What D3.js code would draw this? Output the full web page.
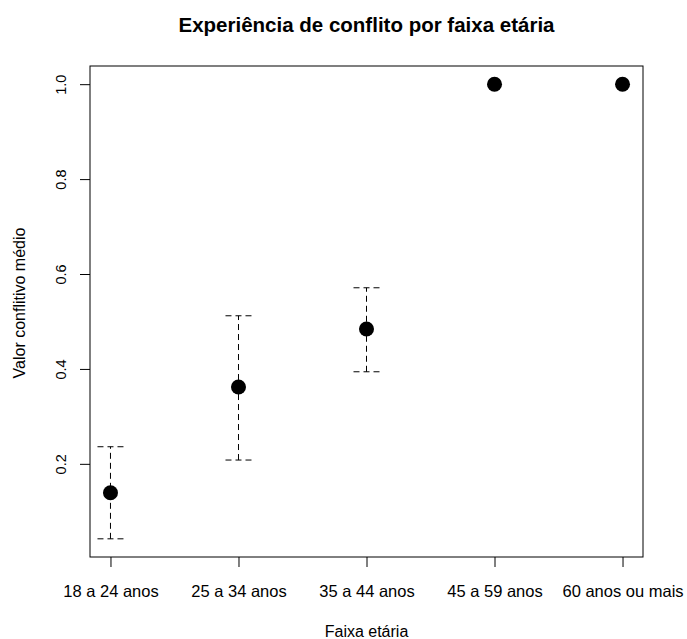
<!DOCTYPE html>
<html>
<head>
<meta charset="utf-8">
<script src="https://cdn.jsdelivr.net/npm/d3@7"></script>
<style>
  body { margin: 0; background: #fff; }
  text { font-family: "Liberation Sans", Arial, sans-serif; fill: #000; }
</style>
</head>
<body>
<svg id="drawing_region"></svg>
<script>
// faixas etarias e valores medios com intervalos
const categories = ["18 a 24 anos", "25 a 34 anos", "35 a 44 anos", "45 a 59 anos", "60 anos ou mais"];
const means = [0.139, 0.362, 0.484, 1.0, 1.0];
const lower = [0.042, 0.208, 0.394, 1.0, 1.0];
const upper = [0.236, 0.512, 0.571, 1.0, 1.0];
const yTicks = [0.2, 0.4, 0.6, 0.8, 1.0];

const config = {
    width: 687,
    height: 639,
    margin: {top: 66, right: 44, bottom: 82, left: 90}
};

const svg = d3.select('#drawing_region')
    .attr('width', config.width)
    .attr('height', config.height);

const inner_width = config.width - config.margin.left - config.margin.right;
const inner_height = config.height - config.margin.top - config.margin.bottom;

const chart = svg.append('g')
    .attr('transform', `translate(${config.margin.left}, ${config.margin.top})`);

// R style 4% extension
const xscale = d3.scaleLinear()
    .domain([0.84, 5.16])
    .range([0, inner_width]);

const ylo = d3.min(lower), yhi = d3.max(upper);
const ypad = (yhi - ylo) * 0.04;
const yscale = d3.scaleLinear()
    .domain([ylo - ypad, yhi + ypad])
    .range([inner_height, 0]);

// box
chart.append('rect')
    .attr('x', 0).attr('y', 0)
    .attr('width', inner_width).attr('height', inner_height)
    .attr('fill', 'none').attr('stroke', '#000').attr('stroke-width', 1);

// x axis
const xaxis = d3.axisBottom(xscale)
    .tickValues(d3.range(1, categories.length + 1))
    .tickFormat(i => categories[i - 1])
    .tickSize(10);

const xg = chart.append('g')
    .attr('transform', `translate(0, ${inner_height})`)
    .call(xaxis);
xg.select('.domain').remove();
xg.selectAll('line').attr('stroke', '#000');
xg.selectAll('text')
    .attr('font-size', '16.5px')
    .attr('font-family', '"Liberation Sans", Arial, sans-serif')
    .attr('y', 40).attr('dy', null);

// y axis
const yaxis = d3.axisLeft(yscale)
    .tickValues(yTicks)
    .tickFormat(d3.format('.1f'))
    .tickSize(10);

const yg = chart.append('g').call(yaxis);
yg.select('.domain').remove();
yg.selectAll('line').attr('stroke', '#000');
yg.selectAll('text')
    .attr('font-size', '14.5px')
    .attr('font-family', '"Liberation Sans", Arial, sans-serif')
    .attr('x', null).attr('dy', null)
    .attr('text-anchor', 'middle')
    .attr('transform', 'translate(-24, 0) rotate(-90)');

// error bars
const eb = categories.map((c, i) => ({i: i + 1, m: means[i], lo: lower[i], hi: upper[i]}))
    .filter(d => d.hi > d.lo);
const cap = 13;

chart.selectAll('line.bar')
    .data(eb)
    .enter()
    .append('line')
    .attr('class', 'bar')
    .attr('x1', d => xscale(d.i)).attr('x2', d => xscale(d.i))
    .attr('y1', d => yscale(d.lo)).attr('y2', d => yscale(d.hi))
    .attr('stroke', '#000').attr('stroke-dasharray', '6,4');

chart.selectAll('line.caphi')
    .data(eb)
    .enter()
    .append('line')
    .attr('class', 'caphi')
    .attr('x1', d => xscale(d.i) - cap).attr('x2', d => xscale(d.i) + cap)
    .attr('y1', d => yscale(d.hi)).attr('y2', d => yscale(d.hi))
    .attr('stroke', '#000').attr('stroke-dasharray', '6,4');

chart.selectAll('line.caplo')
    .data(eb)
    .enter()
    .append('line')
    .attr('class', 'caplo')
    .attr('x1', d => xscale(d.i) - cap).attr('x2', d => xscale(d.i) + cap)
    .attr('y1', d => yscale(d.lo)).attr('y2', d => yscale(d.lo))
    .attr('stroke', '#000').attr('stroke-dasharray', '6,4');

// points
chart.selectAll('circle')
    .data(means)
    .enter()
    .append('circle')
    .attr('cx', (d, i) => xscale(i + 1))
    .attr('cy', d => yscale(d))
    .attr('r', 7.5)
    .attr('fill', '#000');

// titles
svg.append('text')
    .attr('x', config.margin.left + inner_width / 2)
    .attr('y', 32)
    .attr('text-anchor', 'middle')
    .attr('font-size', '20.5px')
    .attr('font-weight', 'bold')
    .text('Experiência de conflito por faixa etária');

svg.append('text')
    .attr('x', config.margin.left + inner_width / 2)
    .attr('y', 637)
    .attr('text-anchor', 'middle')
    .attr('font-size', '16px')
    .text('Faixa etária');

svg.append('text')
    .attr('transform', `translate(25, 303) rotate(-90)`)
    .attr('text-anchor', 'middle')
    .attr('font-size', '16px')
    .text('Valor conflitivo médio');
</script>
</body>
</html>
